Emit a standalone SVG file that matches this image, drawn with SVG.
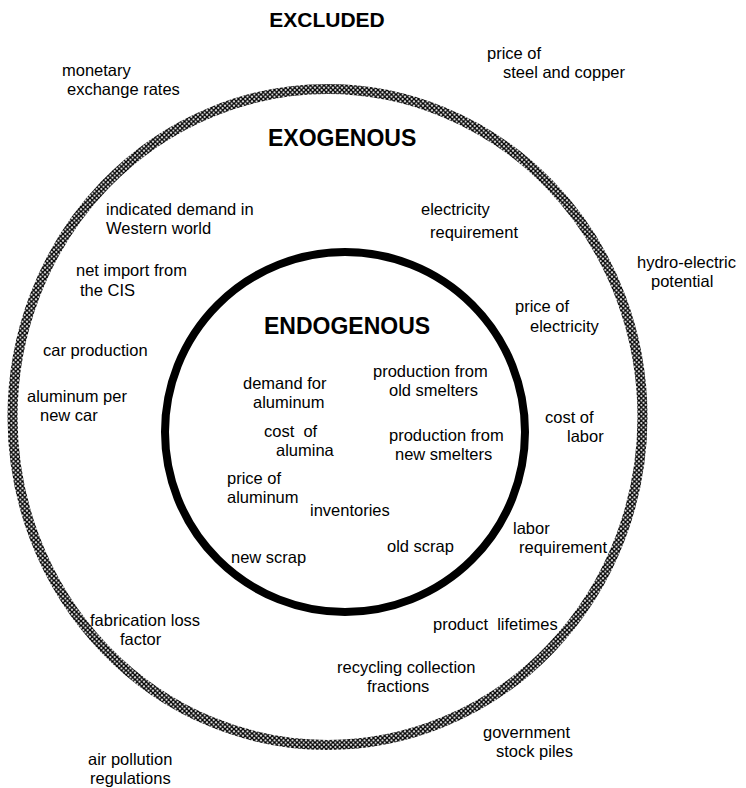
<svg xmlns="http://www.w3.org/2000/svg" width="746" height="788" viewBox="0 0 746 788">
<style>
text{font-family:"Liberation Sans",Arial,sans-serif;font-size:16.5px;fill:#000}
.h{font-weight:bold;font-size:23px}
</style>
<defs>
<pattern id="hatch" patternUnits="userSpaceOnUse" width="4.5" height="4.5">
<rect width="4.5" height="4.5" fill="#fff"/>
<path d="M-1,-1L5.5,5.5M-1,5.5L5.5,-1" stroke="#000" stroke-width="1.4"/>
</pattern>
</defs>
<rect width="746" height="788" fill="#fff"/>
<g id="rings">
<ellipse id="exogenous-ring" cx="327.5" cy="417" rx="315" ry="328" fill="none" stroke="url(#hatch)" stroke-width="10"/>
<circle id="endogenous-ring" cx="345" cy="432" r="180" fill="none" stroke="#000" stroke-width="8"/>
</g>
<g id="excluded">
<text class="h" x="327" y="27" text-anchor="middle" style="font-size:21px">EXCLUDED</text>
<text x="62" y="76">monetary</text><text x="67" y="95">exchange rates</text>
<text x="487" y="59">price of</text><text x="503" y="78">steel and copper</text>
<text x="637" y="268">hydro-electric</text><text x="651" y="287">potential</text>
<text x="483" y="738">government</text><text x="496" y="757">stock piles</text>
<text x="88" y="765">air pollution</text><text x="90" y="784">regulations</text>
</g>
<g id="exogenous">
<text class="h" x="268" y="146">EXOGENOUS</text>
<text x="106" y="215">indicated demand in</text><text x="106" y="234">Western world</text>
<text x="421" y="215">electricity</text><text x="430" y="238">requirement</text>
<text x="76" y="276">net import from</text><text x="80" y="296">the CIS</text>
<text x="515" y="312">price of</text><text x="530" y="332">electricity</text>
<text x="43" y="356">car production</text>
<text x="27" y="402">aluminum per</text><text x="40" y="421">new car</text>
<text x="545" y="423">cost of</text><text x="567" y="442">labor</text>
<text x="513" y="534">labor</text><text x="519" y="553">requirement</text>
<text x="90" y="626">fabrication loss</text><text x="120" y="645">factor</text>
<text x="433" y="630" xml:space="preserve">product  lifetimes</text>
<text x="337" y="673">recycling collection</text><text x="367" y="692">fractions</text>
</g>
<g id="endogenous">
<text class="h" x="264" y="334">ENDOGENOUS</text>
<text x="373" y="377">production from</text><text x="389" y="396">old smelters</text>
<text x="243" y="389">demand for</text><text x="253" y="408">aluminum</text>
<text x="264" y="437" xml:space="preserve">cost  of</text><text x="276" y="456">alumina</text>
<text x="389" y="441">production from</text><text x="395" y="460">new smelters</text>
<text x="227" y="484">price of</text><text x="227" y="503">aluminum</text>
<text x="310" y="516">inventories</text>
<text x="387" y="552">old scrap</text>
<text x="231" y="563">new scrap</text>
</g>
</svg>
